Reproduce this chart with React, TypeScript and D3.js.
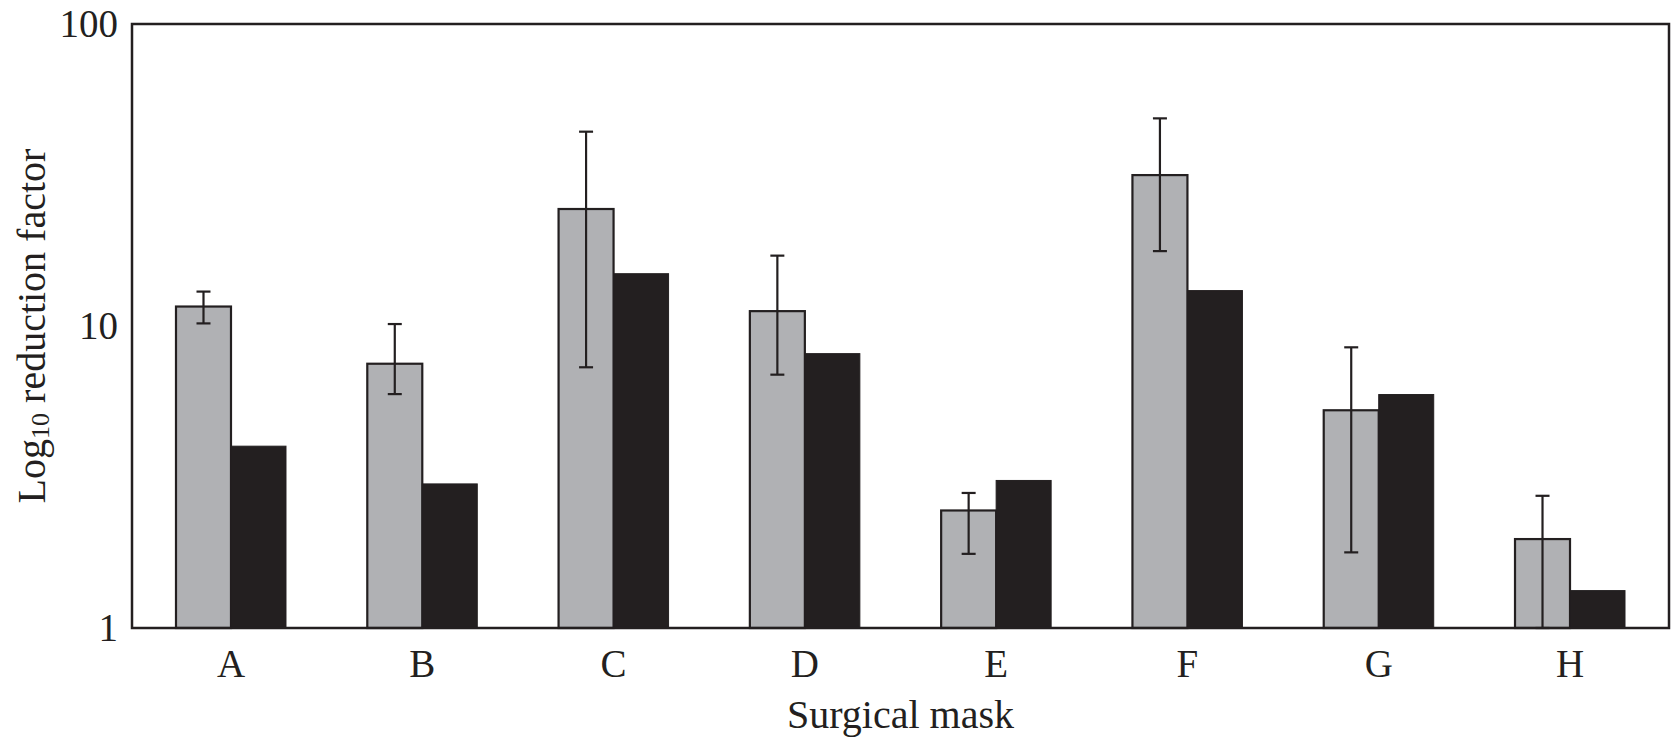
import React from "react";
import * as d3 from "d3";

const categories = ["A", "B", "C", "D", "E", "F", "G", "H"];
const greyValues = [11.6, 7.5, 24.4, 11.2, 2.45, 31.6, 5.26, 1.97];
const greyErrLow = [10.2, 5.95, 7.3, 6.9, 1.76, 17.7, 1.78, 1.0];
const greyErrHigh = [13.0, 10.15, 44, 17.1, 2.8, 48.7, 8.5, 2.74];
const blackValues = [4.0, 3.0, 14.9, 8.1, 3.08, 13.1, 5.93, 1.33];
const yTicks = [1, 10, 100];

const W = 1673;
const H = 740;
const left = 132;
const right = 1669;
const top = 24;
const bottom = 628;
const ink = "#231f20";
const grey = "#b0b1b4";
const font = "'Liberation Serif', 'Times New Roman', serif";

export default function App() {
  const x0 = d3
    .scaleBand<string>()
    .domain(categories)
    .range([left, right])
    .paddingInner(0.425)
    .paddingOuter(0.23);
  const x1 = d3
    .scaleBand<string>()
    .domain(["grey", "black"])
    .range([0, x0.bandwidth()]);
  const y = d3.scaleLog().domain([1, 100]).range([bottom, top]);
  const bw = x1.bandwidth();
  const cap = 7;

  return (
    <svg
      width={W}
      height={H}
      style={{ position: "absolute", left: 0, top: 0, background: "#fff" }}
      fontFamily={font}
    >
      <rect x={0} y={0} width={W} height={H} fill="#fff" />
      {categories.map((c, i) => {
        const gx = (x0(c) as number) + (x1("grey") as number);
        const bx = (x0(c) as number) + (x1("black") as number);
        const cx = gx + bw / 2;
        return (
          <g key={c}>
            <rect
              x={gx}
              y={y(greyValues[i])}
              width={bw}
              height={bottom - y(greyValues[i])}
              fill={grey}
              stroke={ink}
              strokeWidth={2.2}
            />
            <rect
              x={bx}
              y={y(blackValues[i])}
              width={bw}
              height={bottom - y(blackValues[i])}
              fill={ink}
              stroke={ink}
              strokeWidth={1}
            />
            <line x1={cx} x2={cx} y1={y(greyErrLow[i])} y2={y(greyErrHigh[i])} stroke={ink} strokeWidth={2.2} />
            <line x1={cx - cap} x2={cx + cap} y1={y(greyErrHigh[i])} y2={y(greyErrHigh[i])} stroke={ink} strokeWidth={2.2} />
            <line x1={cx - cap} x2={cx + cap} y1={y(greyErrLow[i])} y2={y(greyErrLow[i])} stroke={ink} strokeWidth={2.2} />
            <text
              x={(x0(c) as number) + x0.bandwidth() / 2}
              y={677}
              textAnchor="middle"
              fontSize={39}
              fill={ink}
            >
              {c}
            </text>
          </g>
        );
      })}
      <rect
        x={left}
        y={top}
        width={right - left}
        height={bottom - top}
        fill="none"
        stroke={ink}
        strokeWidth={2.5}
      />
      {yTicks.map((t) => (
        <text key={t} x={118} y={y(t) + 13} textAnchor="end" fontSize={39} fill={ink}>
          {t}
        </text>
      ))}
      <text
        transform={`translate(45, ${(top + bottom) / 2}) rotate(-90)`}
        textAnchor="middle"
        fontSize={40}
        fill={ink}
      >
        Log
        <tspan fontSize={26} dy={4}>10</tspan>
        <tspan dy={-4}> reduction factor</tspan>
      </text>
      <text x={(left + right) / 2} y={728} textAnchor="middle" fontSize={40} fill={ink}>
        Surgical mask
      </text>
    </svg>
  );
}
